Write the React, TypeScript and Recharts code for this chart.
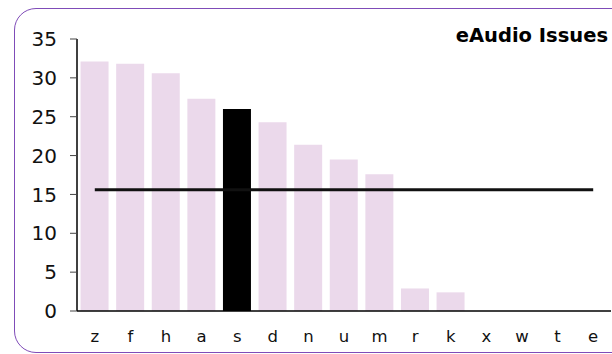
import React from "react";
import { ComposedChart, Bar, Line, XAxis, YAxis } from "recharts";

const categories = ["z", "f", "h", "a", "s", "d", "n", "u", "m", "r", "k", "x", "w", "t", "e"];
const issueCounts = [32.1, 31.8, 30.6, 27.3, 26.0, 24.3, 21.4, 19.5, 17.6, 2.9, 2.4, 0, 0, 0, 0];
const highlighted = "s";
const averageValue = 15.6;
const yTicks = [0, 5, 10, 15, 20, 25, 30, 35];
const title = "eAudio Issues";

const data = categories.map((c, i) => ({
  name: c,
  base: c === highlighted ? null : issueCounts[i],
  hi: c === highlighted ? issueCounts[i] : null,
  avg: averageValue,
}));

const FONT = "'DejaVu Sans', Verdana, sans-serif";

export default function App() {
  return (
    <div style={{ position: "absolute", left: 0, top: 0, width: 612, height: 354, overflow: "hidden", background: "#fff" }}>
      <div
        style={{
          position: "absolute",
          left: 14,
          top: 8,
          width: 620,
          height: 345,
          border: "1.6px solid #7f4cb8",
          borderRadius: 22,
          boxSizing: "border-box",
        }}
      />
      <div
        style={{
          position: "absolute",
          right: 4,
          top: 23,
          fontFamily: FONT,
          fontWeight: "bold",
          fontSize: 19.5,
          lineHeight: "26px",
          color: "#000",
          whiteSpace: "nowrap",
        }}
      >
        {title}
      </div>
      <div style={{ position: "absolute", left: 0, top: 0 }}>
        <ComposedChart
          width={612}
          height={354}
          data={data}
          margin={{ top: 39, right: 1, bottom: 13, left: 17 }}
          barCategoryGap="10%"
        >
          <XAxis
            dataKey="name"
            axisLine={{ stroke: "#000", strokeWidth: 1.5 }}
            tickLine={false}
            tick={{ fill: "#111", fontSize: 16.5, fontFamily: FONT }}
            tickMargin={13}
            height={30}
            interval={0}
          />
          <YAxis
            domain={[0, 35]}
            ticks={yTicks}
            axisLine={{ stroke: "#000", strokeWidth: 1.5 }}
            tickLine={{ stroke: "#444" }}
            tickSize={7}
            tickMargin={13}
            tick={{ fill: "#111", fontSize: 20, fontFamily: FONT }}
            width={60}
            interval={0}
          />
          <Bar dataKey="base" stackId="a" fill="#ebd9eb" isAnimationActive={false} />
          <Line
            dataKey="avg"
            type="linear"
            stroke="#111"
            strokeWidth={3}
            dot={false}
            activeDot={false}
            isAnimationActive={false}
          />
          <Bar dataKey="hi" stackId="a" fill="#000" isAnimationActive={false} />
        </ComposedChart>
      </div>
    </div>
  );
}
